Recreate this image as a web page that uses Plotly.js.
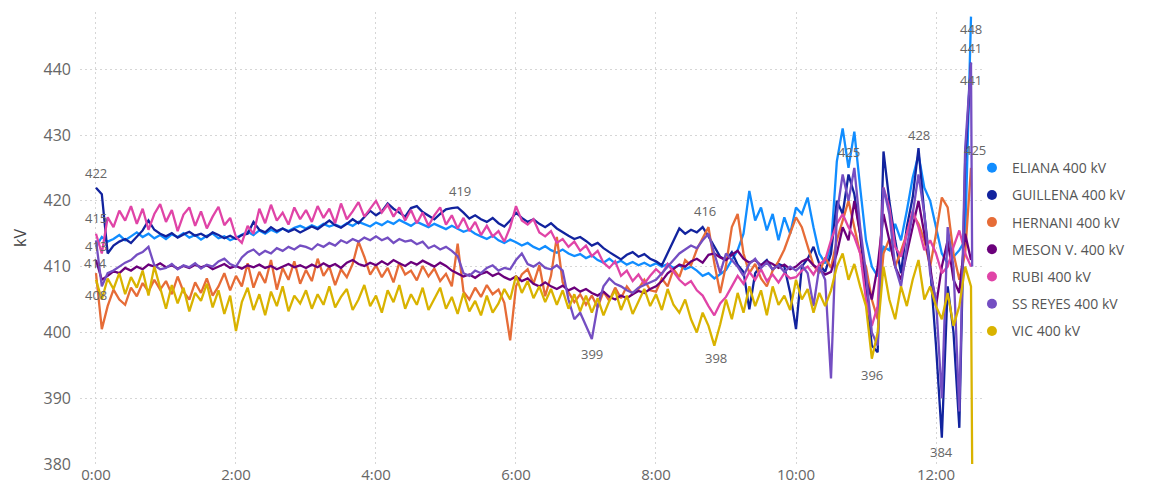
<!DOCTYPE html>
<html>
<head>
<meta charset="utf-8">
<script src="https://cdn.plot.ly/plotly-3.0.1.min.js"></script>
<style>
  html, body { margin: 0; padding: 0; background: #ffffff; }
  #chart { width: 1152px; height: 485px; }
</style>
</head>
<body>
<div id="chart"></div>
<script>
// Substation voltages (kV), one reading every 5 minutes from 0:00 to 12:30,
// plus a last reading at 12:31 for the stations that have one.
const seriesNames = ['ELIANA 400 kV', 'GUILLENA 400 kV', 'HERNANI 400 kV', 'MESON V. 400 kV',
                     'RUBI 400 kV', 'SS REYES 400 kV', 'VIC 400 kV'];
const seriesColors = ['#118DFF', '#12239E', '#E66C37', '#6B007B', '#E044A7', '#744EC2', '#D9B300'];

const eliana = [
  413, 414.5, 413.8, 414.2, 414.8, 414.0, 414.6, 415.2, 414.5, 415.0, 414.3, 414.8,
  414.2, 414.9, 414.5, 415.1, 414.4, 414.8, 414.1, 414.7, 415.0, 414.3, 414.6, 414.0,
  414.4, 414.9, 415.3, 414.8, 415.5, 415.0, 415.6, 415.2, 415.8, 415.4, 415.9, 416.2,
  415.8, 416.3, 415.9, 416.5, 416.1, 416.4, 416.0, 416.6, 416.2, 416.8, 416.4, 416.1,
  416.7, 416.3, 416.9, 416.5, 417.1, 416.6, 416.2, 416.8, 416.4, 416.0, 416.5, 416.1,
  415.7, 416.2, 415.8, 415.3, 415.6, 415.0, 414.6, 414.2, 414.7, 414.0, 413.6, 414.1,
  413.7, 413.2, 413.6, 413.0, 412.6, 413.1, 412.5, 412.1, 412.6, 412.0, 411.6, 411.9,
  411.3, 411.7, 411.0, 410.6, 411.2, 410.5, 410.9, 410.3, 410.7, 410.2, 410.6, 410.1,
  410.5, 410.0, 410.4, 409.8, 410.2, 409.6, 410.0, 409.4, 408.6, 409.0, 408.2, 408.8,
  409.5, 411.0, 412.5, 415.0, 421.5, 417.0, 419.0, 415.5, 418.0, 414.0, 417.5, 415.0,
  419.0, 418.0, 420.5, 416.0, 412.0, 410.5, 413.0, 426.0, 431.0, 425, 430.5, 422.0,
  414.0, 410.0, 408.5, 413.0, 412.5, 416.5, 414.0, 418.5, 423.5, 427.0, 422.0, 420.0,
  416.0, 412.0, 410.5, 411.5, 412.5, 414.0, 448
];
const guillena = [
  422, 421, 412, 413.2, 413.8, 414.2, 413.6, 414.5, 415.5, 417.0, 415.6, 415.0,
  414.6, 415.1, 414.4, 414.9, 415.3, 414.7, 415.0, 414.5, 415.2, 414.8, 414.3, 414.7,
  414.2, 414.8, 415.0, 416.8, 415.6, 415.2, 416.0, 415.4, 415.8, 415.3, 415.7, 415.2,
  415.6, 416.1, 415.7, 416.4, 417.0, 416.3, 415.9, 416.5, 417.2, 416.6, 417.5, 418.5,
  417.8, 418.4, 419.6, 418.8, 418.2, 417.6, 418.9, 419.2, 418.3, 417.7, 417.2, 418.0,
  418.7, 418.9, 419, 418.2, 417.3, 417.8, 417.2, 416.8, 417.4, 416.6, 416.1, 417.0,
  418.2, 417.4, 416.8, 417.2, 416.5, 416.0, 416.6, 415.8, 415.2, 414.7, 414.2, 414.5,
  413.9, 413.2, 413.6, 412.8, 412.2, 411.6, 411.1, 411.8, 412.2, 411.5, 411.9, 411.2,
  410.8, 410.2, 412.0, 414.0, 415.8, 415.0, 415.6, 415.2, 416, 414.6, 413.0, 411.5,
  411.0, 412.2, 410.3, 409.2, 403.5, 409.0, 410.2, 411.0, 409.5, 410.4, 410.0, 406.0,
  400.5, 410.0, 411.2, 413.0, 410.4, 409.2, 412.0, 420.0, 418.0, 424.0, 421.0, 415.0,
  406.0, 398.0, 397.0, 427.5, 420.0, 414.0, 409.0, 416.0, 420.5, 428, 418.0, 410.0,
  398.0, 384, 407.0, 400.0, 385.5, 426.0, 441
];
const hernani = [
  409, 400.5, 404.0, 406.5, 405.0, 404.2, 406.8, 405.5, 407.5, 406.2, 408.0, 406.5,
  407.8, 405.8, 408.5, 406.2, 405.0, 407.6, 406.0, 408.2, 405.6, 407.0, 409.0, 406.4,
  408.6, 407.0, 410.5, 406.8, 409.2, 407.5, 411.0, 406.5, 409.8, 408.0, 410.8, 407.4,
  409.5, 407.8, 411.2, 408.6, 410.0, 407.2, 409.6, 408.4, 410.4, 413.8, 411.5, 408.8,
  410.2, 408.4, 409.8, 407.6, 410.6, 408.8, 409.4, 407.9, 410.1, 408.5, 409.7, 407.8,
  408.9, 407.0, 413.5, 406.2, 405.0, 406.8, 405.4, 407.2, 405.8, 406.5, 404.5, 398.8,
  407.0, 408.8, 409.6, 407.4, 410.2, 405.5, 408.6, 414.5, 407.6, 406.0, 404.6, 405.8,
  404.2, 405.6, 403.8, 406.2, 404.8, 406.8, 405.2, 407.0, 405.8, 406.6, 408.0, 406.4,
  406.2, 408.2, 407.0, 409.6, 408.4, 411.0, 410.2, 412.6, 414.2, 416.0, 410.5, 406.0,
  410.2, 416.0, 418.0, 412.0, 409.0, 410.4, 408.2, 407.0, 409.4, 410.8, 412.6, 415.0,
  417.5, 416.0, 413.0, 410.2, 409.0, 411.4, 409.8, 414.0, 417.0, 420.0, 416.0, 412.0,
  410.0, 405.0, 402.0, 412.0, 414.2, 410.0, 412.4, 415.0, 418.0, 416.5, 414.0, 410.0,
  415.0, 420.5, 419.0, 412.0, 408.0, 412.0, 425
];
const mesonV = [
  411, 408.0, 408.6, 409.3, 409.0, 409.8, 409.4, 410.0, 409.6, 410.3, 410.0, 410.5,
  409.9, 410.2, 409.7, 410.1, 409.8, 410.3, 409.9, 410.2, 409.6, 410.0, 410.4, 409.8,
  410.1, 409.7, 410.2, 409.9, 410.3, 409.8, 410.1, 409.6, 410.0, 410.4, 409.9, 410.2,
  409.8, 410.3, 409.9, 410.5, 410.0, 410.4, 409.8, 410.6, 411.0, 410.4, 410.1, 410.6,
  410.2, 410.8, 410.3, 411.0, 410.5, 410.1, 410.7, 410.3, 410.9, 410.4, 410.0, 410.6,
  410.1, 409.4, 409.0, 408.5, 408.8, 408.3, 408.9, 409.2, 408.6, 409.0, 408.4, 408.0,
  408.5, 407.8, 408.2, 407.4, 407.0, 407.6, 407.0, 406.6, 407.1, 406.4, 406.8, 406.2,
  406.6, 406.0, 405.6, 406.2, 405.4, 405.0, 405.6, 405.2, 405.8, 406.3, 406.0, 406.6,
  407.0, 407.8, 409.0, 409.6, 410.3, 410.0, 410.8, 411.2, 410.6, 411.8, 412.0, 411.4,
  411.0, 411.8, 412.4, 411.2, 410.6, 411.0, 410.2, 410.8, 410.4, 409.8, 410.3, 409.6,
  410.0, 410.8, 411.2, 410.2, 409.6, 408.8, 409.2, 412.0, 416.0, 414.0, 420.0, 415.0,
  408.0, 405.0, 410.0, 418.0, 414.0, 410.0, 408.0, 412.0, 416.0, 420.0, 415.0, 410.0,
  404.0, 410.0, 414.0, 408.0, 406.0, 415.0, 411.0
];
const rubi = [
  415, 412.0, 417.5, 416.0, 418.5, 417.0, 419.2, 416.5, 418.8, 415.6, 418.0, 419.5,
  416.8, 418.6, 415.4, 417.9, 419.0, 416.2, 418.4, 415.8, 417.6, 419.1, 416.3, 417.4,
  414.5, 413.6, 416.2, 415.0, 418.8, 416.6, 419.4, 417.0, 418.2, 416.4, 419.0, 417.2,
  418.6, 416.8, 419.2, 417.4, 418.8, 416.6, 419.6, 417.2, 418.4, 419.8, 417.6, 418.9,
  420.0, 418.2, 419.4, 417.6, 419.0, 417.0, 418.6, 416.6, 418.2, 416.2, 417.8, 419.0,
  416.4, 417.8, 415.8, 417.4, 415.4, 416.8, 414.8, 416.2, 414.6, 415.4, 413.8, 416.0,
  419.2, 417.0, 416.4, 417.2, 415.2, 414.6, 415.4, 413.6, 414.2, 413.0, 413.8, 412.4,
  413.2, 411.6, 412.4, 410.6, 409.8, 410.8, 408.6, 409.4, 407.8, 408.8, 407.4, 408.6,
  409.6, 408.8, 410.4, 409.2, 408.0, 407.2, 407.8, 406.4, 405.6, 404.0, 402.6, 404.4,
  405.4, 407.0, 408.6, 407.4, 409.2, 408.0, 409.6, 407.8, 408.8, 407.6, 409.0, 408.2,
  408.4, 409.4, 410.0, 408.8, 410.4, 411.0, 414.0, 416.5, 418.0, 416.0, 414.5, 412.0,
  405.0, 401.0, 404.0, 422.0, 419.0, 413.0, 411.5, 415.0, 418.5, 416.0, 412.5, 414.0,
  412.0, 409.0, 410.0, 413.0, 415.5, 412.0, 410.0
];
const ssReyes = [
  414, 407.0, 409.0, 409.4, 410.0, 410.6, 411.0, 411.8, 412.2, 413.0, 410.2, 409.6,
  409.8, 410.4, 409.6, 410.2, 409.9, 410.5, 409.7, 410.3, 410.0, 410.8, 411.2, 410.4,
  410.0, 411.4, 412.2, 412.6, 411.8, 412.4, 412.0, 412.8, 412.4, 413.0, 412.6, 413.2,
  413.0, 412.6, 413.4, 413.0, 413.6, 413.2, 414.0, 413.6, 414.2, 413.8, 414.4, 414.0,
  414.6, 414.0, 414.4, 413.6, 414.2, 413.8, 414.0, 413.4, 413.8, 412.8, 413.2, 412.6,
  413.0, 412.4, 411.6, 409.0, 408.6, 409.4, 409.0, 409.8, 410.2, 409.4, 409.8, 409.6,
  411.0, 412.0, 410.4, 410.0, 410.6, 409.8, 409.6, 410.2, 409.4, 405.0, 402.0, 403.0,
  401.0, 399, 404.0, 407.0, 408.2, 407.4, 407.0, 406.4, 406.0, 406.8, 407.2, 407.6,
  408.0, 409.0, 410.0, 411.0, 412.0, 412.6, 413.2, 412.8, 414.0, 415.0, 412.0, 409.0,
  412.0, 411.0, 410.0, 408.6, 410.4, 411.2, 409.8, 410.6, 409.6, 410.2, 409.2, 410.0,
  409.4, 410.2, 409.0, 404.0, 410.0, 408.0, 393.0, 418.0, 424.0, 420.0, 425.0, 416.0,
  409.0, 400.0, 398.0, 422.0, 418.0, 410.0, 407.0, 413.0, 418.0, 424.0, 418.0, 409.0,
  405.0, 390.0, 416.0, 410.0, 388.0, 428.0, 441, 410.0
];
const vic = [
  408, 405.0, 408.2, 406.6, 409.0, 405.8, 408.4, 406.8, 409.4, 405.6, 410.0, 406.8,
  403.6, 407.2, 404.4, 406.8, 403.2, 406.0, 404.8, 407.4, 403.8, 406.4, 402.8, 405.6,
  400.2, 404.6, 406.8, 403.4, 405.8, 402.6, 406.2, 404.0, 407.0, 403.2, 405.6, 404.4,
  406.4, 403.6, 405.8, 404.2, 407.0, 403.8, 405.4, 406.6, 403.4, 405.0, 407.2, 404.0,
  405.6, 403.0, 406.4, 404.6, 407.2, 403.6, 405.8, 404.2, 406.8, 403.4, 405.2, 406.8,
  403.6, 405.4, 402.8, 406.0, 403.2, 404.8, 402.6, 405.6, 403.0, 404.4, 406.6, 405.0,
  408.6, 406.0, 407.8, 405.2, 407.0, 404.6, 406.6, 404.2, 406.4, 403.6, 405.8, 403.2,
  405.6, 403.0, 405.2, 402.6, 404.8, 406.4, 403.4, 405.6, 402.8, 404.6, 406.6, 404.0,
  405.8, 403.4, 406.6, 404.2, 403.0, 405.0, 402.0, 400.0, 403.0, 401.0, 398, 401.2,
  405.0, 402.0, 406.0, 403.0, 407.0, 404.0, 406.4, 402.6, 407.0, 404.2, 405.6, 403.4,
  408.0, 405.0, 406.6, 403.0, 406.0, 404.0, 406.4, 410.0, 412.0, 408.0, 410.4, 407.0,
  404.0, 396, 400.0, 410.0, 405.0, 402.0, 407.0, 404.0, 408.0, 411.0, 405.0, 407.0,
  404.0, 402.0, 406.0, 401.0, 404.0, 410.0, 407.0, 380
];
const seriesValues = [eliana, guillena, hernani, mesonV, rubi, ssReyes, vic];

// Reading times in minutes after midnight
const minutes = [];
for (let m = 0; m <= 750; m += 5) minutes.push(m);
minutes.push(751);

const tickMinutes = [0, 120, 240, 360, 480, 600, 720];
const tickLabels = ['0:00', '2:00', '4:00', '6:00', '8:00', '10:00', '12:00'];

// Data labels: [series index, minute, vertical offset in px, horizontal offset in px]
const dataLabels = [
  [1, 0, 15, 0], [4, 0, 16, 0], [0, 0, 1, 0], [5, 0, -23, 0], [6, 0, -15, 0],
  [1, 310, 16, 2], [1, 520, 16, 2], [5, 425, -15, 0], [6, 530, -12, 2],
  [0, 645, 16, 0], [1, 705, 13, 0], [6, 665, -16, 0], [1, 725, -14, 0],
  [0, 750, -12, 0], [1, 750, 15, 0], [5, 750, -17, 0], [2, 750, 18, 4]
];

const FONT = 'Open Sans, Noto Sans, sans-serif';
const TEXT_GREY = '#666666';

const traces = [];
// Legend entries drawn as round markers
seriesNames.forEach((name, i) => {
  traces.push({
    x: [null], y: [null], type: 'scatter', mode: 'markers', name: name,
    legendgroup: 'g' + i, showlegend: true, hoverinfo: 'skip',
    marker: { color: seriesColors[i], size: 10, symbol: 'circle' }
  });
});
seriesNames.forEach((name, i) => {
  traces.push({
    x: minutes.slice(0, seriesValues[i].length), y: seriesValues[i],
    type: 'scatter', mode: 'lines', name: name, legendgroup: 'g' + i,
    showlegend: false,
    line: { color: seriesColors[i], width: 2.3 }
  });
});

const annotations = dataLabels.map(([s, minute, dy, dx]) => {
  const idx = minutes.indexOf(minute);
  const v = seriesValues[s][idx];
  return {
    x: minute, y: v, xref: 'x', yref: 'y', text: String(Math.round(v)),
    showarrow: false, yshift: dy, xshift: dx,
    font: { family: FONT, size: 13, color: TEXT_GREY }
  };
});

const layout = {
  width: 1152, height: 485,
  margin: { l: 80, r: 167, t: 12, b: 21 },
  paper_bgcolor: '#ffffff', plot_bgcolor: '#ffffff',
  font: { family: FONT, color: TEXT_GREY },
  showlegend: true,
  legend: {
    x: 0.9856, xanchor: 'left', y: 0.69, yanchor: 'top',
    font: { family: FONT, size: 14, color: '#555555' },
    tracegroupgap: 6, traceorder: 'grouped',
    bgcolor: 'rgba(0,0,0,0)', itemclick: false
  },
  xaxis: {
    range: [-13.7, 762], tickvals: tickMinutes, ticktext: tickLabels,
    showgrid: true, gridcolor: '#d6d6d6', griddash: '2px,3px', gridwidth: 1,
    zeroline: false, showline: false, ticks: '',
    tickfont: { family: FONT, size: 15, color: TEXT_GREY }
  },
  yaxis: {
    range: [380, 448.7], dtick: 10, tick0: 380,
    showgrid: true, gridcolor: '#d6d6d6', griddash: '2px,3px', gridwidth: 1,
    zeroline: false, showline: false, ticks: '', ticklabelstandoff: 8,
    tickfont: { family: FONT, size: 16, color: TEXT_GREY },
    title: { text: 'kV', font: { family: FONT, size: 16, color: '#444444' }, standoff: 12 }
  },
  annotations: annotations,
  hovermode: false
};

Plotly.newPlot('chart', traces, layout, { displayModeBar: false, staticPlot: true });
</script>
</body>
</html>
